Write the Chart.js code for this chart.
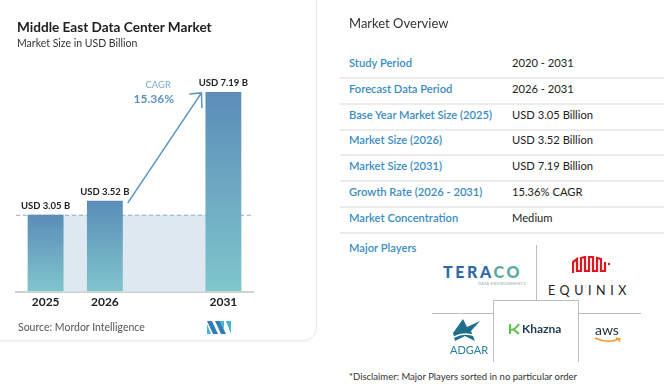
<!DOCTYPE html>
<html>
<head>
<meta charset="utf-8">
<script src="https://cdn.jsdelivr.net/npm/chart.js@4.4.1/dist/chart.umd.min.js"></script>
<style>
    body { margin: 0; width: 664px; height: 386px; background: #fff; font-family: Lato, "Open Sans", sans-serif; overflow: hidden; position: relative; }
    .card { position: absolute; left: -20px; top: -20px; width: 335px; height: 359px; border: 1px solid #ececec; border-radius: 14px; box-shadow: 0 1px 3px rgba(0,0,0,0.05); background: #fff; }
    #chart { position: absolute; left: 0; top: 0; }
    .title { position: absolute; left: 17px; top: 19px; font-size: 13.6px; font-weight: bold; color: #222; }
    .subtitle { position: absolute; left: 17px; top: 37px; font-size: 10.5px; color: #333; }
    .source { position: absolute; left: 18px; top: 321px; font-size: 10.5px; color: #555; }
    .mi { position: absolute; left: 207px; top: 321px; }
    .overview { position: absolute; left: 349px; top: 15px; font-size: 13px; color: #333; }
    .row { position: absolute; left: 340px; width: 324px; height: 26px; border-bottom: 2px solid #ececec; }
    .row .k { position: absolute; left: 9px; top: 5px; font-size: 11.2px; font-weight: 600; color: #3a8cc2; }
    .row .v { position: absolute; left: 172px; top: 5px; font-size: 11.2px; color: #222; }
    .players { position: absolute; left: 349px; top: 241px; font-size: 11.2px; font-weight: 600; color: #3a8cc2; }
    .ln { position: absolute; background: #bdbdbd; }
    .disc { position: absolute; left: 349px; top: 371px; font-size: 9.5px; color: #333; }
</style>
</head>
<body>
<div class="card"></div>
<canvas id="chart" width="300" height="340"></canvas>
<div class="title">Middle East Data Center Market</div>
<div class="subtitle">Market Size in USD Billion</div>
<div class="source">Source: Mordor Intelligence</div>
<svg class="mi" width="24" height="13" viewBox="0 0 24 13">
    <polygon points="0,0 5,0 11,13 6,13" fill="#2f7fb5"/><polygon points="0,3 4,13 0,13" fill="#43b6c9"/>
    <polygon points="8,0 13,0 19,13 14,13" fill="#2f7fb5"/><polygon points="13,0 17,0 17,8" fill="#43b6c9"/>
    <polygon points="19,0 24,0 24,13" fill="#43b6c9"/>
</svg>

<div class="overview">Market Overview</div>
<div id="table"></div>
<div class="players">Major Players</div>

<!-- logo grid -->
<div class="ln" style="left:536px; top:245px; width:1px; height:55px;"></div>
<div class="ln" style="left:432px; top:313px; width:62px; height:1px;"></div>
<div class="ln" style="left:578px; top:313px; width:63px; height:1px;"></div>
<div class="ln" style="left:493px; top:300px; width:86px; height:1px;"></div>
<div class="ln" style="left:493px; top:300px; width:1px; height:62px;"></div>
<div class="ln" style="left:578px; top:300px; width:1px; height:62px;"></div>

<div style="position:absolute; left:443px; top:262px; font-size:16px; font-weight:900; letter-spacing:2.6px; color:#2d6aa5;">TERA<span style="color:#5aa89f;">CO</span></div>
<div style="position:absolute; left:478px; top:281px; font-size:4px; letter-spacing:0.3px; color:#8aa;">DATA ENVIRONMENTS</div>

<svg style="position:absolute; left:572px; top:256px;" width="40" height="18" viewBox="0 0 40 18">
    <path d="M1,17 L1,6 L5,3 L5,15 L9,15 L9,2 L13,1 L13,15 L17,15 L17,1 L21,1 L21,15 L25,15 L25,2 L29,3 L29,15 L33,15 L33,6" fill="none" stroke="#e0161f" stroke-width="2.2"/>
    <circle cx="37" cy="8" r="1.2" fill="#e0161f"/>
</svg>
<div style="position:absolute; left:548px; top:283px; font-size:12.5px; letter-spacing:4.6px; color:#222;">EQUINIX</div>

<svg style="position:absolute; left:451px; top:319px;" width="30" height="24" viewBox="0 0 30 24">
    <path d="M2,14 L12,0 L16,8 L29,2 L20,12 L24,22 L14,17 L4,22 Z" fill="#1f6f8b"/>
    <path d="M3,18 Q14,12 27,18" fill="none" stroke="#fff" stroke-width="1.5"/>
</svg>
<div style="position:absolute; left:450px; top:343px; font-size:11px; color:#2a7f9e;">ADGAR</div>

<svg style="position:absolute; left:509px; top:323px;" width="12" height="12" viewBox="0 0 12 12">
    <path d="M1,1 L1,11 M1,7 Q6,7 10,1 M4,6 L10,11" fill="none" stroke="#63c04a" stroke-width="2.2"/>
</svg>
<div style="position:absolute; left:522px; top:321px; font-size:12px; font-weight:bold; color:#1f3b52;">Khazna</div>

<div style="position:absolute; left:595px; top:321px; font-size:14px; color:#232f3e;">aws</div>
<svg style="position:absolute; left:594px; top:337px;" width="30" height="7" viewBox="0 0 30 7">
    <path d="M1,1 Q13,7 25,2" fill="none" stroke="#f29a1f" stroke-width="1.6"/>
    <path d="M22,1 L26,2 L25,5" fill="none" stroke="#f29a1f" stroke-width="1.3"/>
</svg>

<div class="disc">*Disclaimer: Major Players sorted in no particular order</div>

<script>
// chart data
const years = ['2025', '2026', '', '2031'];
const marketSize = [3.05, 3.52, null, 7.19];
const valueLabels = ['USD 3.05 B', 'USD 3.52 B', '', 'USD 7.19 B'];
const cagrText = '15.36%';

// overview table
const overviewKeys = ['Study Period', 'Forecast Data Period', 'Base Year Market Size (2025)', 'Market Size (2026)', 'Market Size (2031)', 'Growth Rate (2026 - 2031)', 'Market Concentration'];
const overviewValues = ['2020 - 2031', '2026 - 2031', 'USD 3.05 Billion', 'USD 3.52 Billion', 'USD 7.19 Billion', '15.36% CAGR', 'Medium'];

const tableDiv = document.getElementById('table');
overviewKeys.forEach((k, i) => {
    const row = document.createElement('div');
    row.className = 'row';
    row.style.top = (51 + i * 25.8) + 'px';
    row.innerHTML = `<span class="k">${k}</span><span class="v">${overviewValues[i]}</span>`;
    tableDiv.appendChild(row);
});

const BASE = 0.46; // the original axis does not start at zero

function barGradient(ctx) {
    const chart = ctx.chart;
    if (!chart.chartArea || ctx.raw == null) return '#6aa5c2';
    const y = chart.scales.y;
    const top = y.getPixelForValue(ctx.raw);
    const bottom = y.getPixelForValue(BASE);
    const g = chart.ctx.createLinearGradient(0, top, 0, bottom);
    g.addColorStop(0, '#5b8db8');
    g.addColorStop(1, '#7fc6cc');
    return g;
}

const decor = {
    id: 'decor',
    beforeDatasetsDraw(chart) {
        const c = chart.ctx;
        const y = chart.scales.y;
        const bars = chart.getDatasetMeta(0).data;
        const yBase = y.getPixelForValue(marketSize[0]);
        const yZero = y.getPixelForValue(BASE);
        c.save();
        // light band behind bars
        c.fillStyle = '#dde8f0';
        const l = bars[0].x - bars[0].width / 2;
        const r = bars[3].x + bars[3].width / 2;
        c.fillRect(l, yBase, r - l, yZero - yBase);
        // dashed reference line
        c.strokeStyle = '#8fb0c8';
        c.lineWidth = 1;
        c.setLineDash([4, 3]);
        c.beginPath();
        c.moveTo(chart.chartArea.left, yBase + 0.5);
        c.lineTo(chart.chartArea.right, yBase + 0.5);
        c.stroke();
        c.restore();
    },
    afterDatasetsDraw(chart) {
        const c = chart.ctx;
        const bars = chart.getDatasetMeta(0).data;
        c.save();
        c.font = 'bold 9.5px Lato';
        c.fillStyle = '#222';
        c.textAlign = 'center';
        c.textBaseline = 'alphabetic';
        bars.forEach((b, i) => {
            if (marketSize[i] == null) return;
            c.fillText(valueLabels[i], b.x, b.y - 6);
        });

        // CAGR arrow
        const b1 = bars[1], b3 = bars[3];
        const x1 = b1.x + b1.width / 2 + 5, y1 = b1.y + 2;
        const x2 = b3.x - b3.width / 2 - 4, y2 = b3.y + 1;
        c.strokeStyle = '#5b93c0';
        c.lineWidth = 1.5;
        c.beginPath();
        c.moveTo(x1, y1);
        c.lineTo(x2, y2);
        c.moveTo(x2 - 12, y2 + 1);
        c.lineTo(x2, y2);
        c.lineTo(x2 + 0.5, y2 + 15);
        c.stroke();

        c.textAlign = 'right';
        c.fillStyle = '#7ba9c9';
        c.font = '9.5px Lato';
        c.fillText('CAGR', 171, 88);
        c.fillStyle = '#5b93c0';
        c.font = 'bold 12px Lato';
        c.fillText(cagrText, 174, 103);
        c.restore();
    }
};

new Chart(document.getElementById('chart'), {
    type: 'bar',
    data: {
        labels: years,
        datasets: [{
            data: marketSize,
            base: BASE,
            backgroundColor: barGradient,
            borderWidth: 0,
            categoryPercentage: 1,
            barPercentage: 0.605
        }]
    },
    options: {
        responsive: false,
        devicePixelRatio: 1,
        animation: false,
        layout: { padding: { left: 16, right: 47, top: 40, bottom: 28 } },
        plugins: { legend: { display: false }, tooltip: { enabled: false } },
        scales: {
            x: {
                grid: { display: false, drawTicks: false },
                border: { display: true, color: '#d0d0d0', width: 2 },
                ticks: { color: '#222', font: { family: 'Lato', size: 12, weight: 'bold' }, padding: 3 }
            },
            y: {
                display: false,
                min: BASE,
                max: 8.94
            }
        }
    },
    plugins: [decor]
});
</script>
</body>
</html>
